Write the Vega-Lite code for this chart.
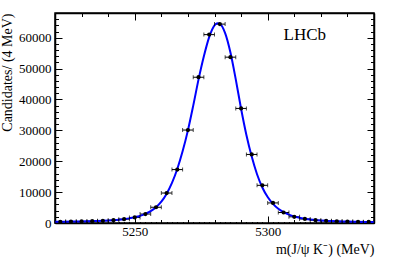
{
  "$schema": "https://vega.github.io/schema/vega-lite/v6.json",
  "width": 319,
  "height": 210,
  "autosize": {"type": "none"},
  "padding": {"left": 55, "top": 13, "right": 20, "bottom": 44},
  "background": "white",
  "config": {
    "view": {"stroke": "black", "strokeWidth": 1.5},
    "font": "Liberation Serif",
    "axis": {
      "labelFont": "Liberation Serif",
      "titleFont": "Liberation Serif",
      "labelFontSize": 13,
      "titleFontSize": 14,
      "titleFontWeight": "normal",
      "labelColor": "black",
      "titleColor": "black",
      "domainColor": "black",
      "tickColor": "black",
      "domainWidth": 1.5,
      "tickWidth": 1,
      "grid": false
    }
  },
  "datasets": {
    "points": [
      {"mass": 5222, "lo": 5220, "hi": 5224, "count": 400},
      {"mass": 5226, "lo": 5224, "hi": 5228, "count": 450},
      {"mass": 5230, "lo": 5228, "hi": 5232, "count": 500},
      {"mass": 5234, "lo": 5232, "hi": 5236, "count": 600},
      {"mass": 5238, "lo": 5236, "hi": 5240, "count": 700},
      {"mass": 5242, "lo": 5240, "hi": 5244, "count": 900},
      {"mass": 5246, "lo": 5244, "hi": 5248, "count": 1250},
      {"mass": 5250, "lo": 5248, "hi": 5252, "count": 1800},
      {"mass": 5254, "lo": 5252, "hi": 5256, "count": 2900},
      {"mass": 5258, "lo": 5256, "hi": 5260, "count": 5100},
      {"mass": 5262, "lo": 5260, "hi": 5264, "count": 9700},
      {"mass": 5266, "lo": 5264, "hi": 5268, "count": 17300},
      {"mass": 5270, "lo": 5268, "hi": 5272, "count": 30100},
      {"mass": 5274, "lo": 5272, "hi": 5276, "count": 47200},
      {"mass": 5278, "lo": 5276, "hi": 5280, "count": 61000},
      {"mass": 5282, "lo": 5280, "hi": 5284, "count": 64400},
      {"mass": 5286, "lo": 5284, "hi": 5288, "count": 53700},
      {"mass": 5290, "lo": 5288, "hi": 5292, "count": 37100},
      {"mass": 5294, "lo": 5292, "hi": 5296, "count": 22200},
      {"mass": 5298, "lo": 5296, "hi": 5300, "count": 12200},
      {"mass": 5302, "lo": 5300, "hi": 5304, "count": 6500},
      {"mass": 5306, "lo": 5304, "hi": 5308, "count": 3400},
      {"mass": 5310, "lo": 5308, "hi": 5312, "count": 2000},
      {"mass": 5314, "lo": 5312, "hi": 5316, "count": 1300},
      {"mass": 5318, "lo": 5316, "hi": 5320, "count": 900},
      {"mass": 5322, "lo": 5320, "hi": 5324, "count": 700},
      {"mass": 5326, "lo": 5324, "hi": 5328, "count": 550},
      {"mass": 5330, "lo": 5328, "hi": 5332, "count": 450},
      {"mass": 5334, "lo": 5332, "hi": 5336, "count": 400},
      {"mass": 5338, "lo": 5336, "hi": 5340, "count": 350}
    ],
    "fit": [
      {"mass": 5220, "value": 380}, {"mass": 5222, "value": 400}, {"mass": 5224, "value": 420},
      {"mass": 5226, "value": 450}, {"mass": 5228, "value": 480}, {"mass": 5230, "value": 510},
      {"mass": 5232, "value": 550}, {"mass": 5234, "value": 600}, {"mass": 5236, "value": 650},
      {"mass": 5238, "value": 720}, {"mass": 5240, "value": 800}, {"mass": 5242, "value": 910},
      {"mass": 5244, "value": 1050}, {"mass": 5246, "value": 1250}, {"mass": 5248, "value": 1500},
      {"mass": 5250, "value": 1850}, {"mass": 5252, "value": 2300}, {"mass": 5254, "value": 2950},
      {"mass": 5256, "value": 3850}, {"mass": 5258, "value": 5100}, {"mass": 5260, "value": 6900},
      {"mass": 5262, "value": 9500}, {"mass": 5264, "value": 13000}, {"mass": 5266, "value": 17500},
      {"mass": 5268, "value": 23200}, {"mass": 5270, "value": 30000}, {"mass": 5272, "value": 38000},
      {"mass": 5274, "value": 46500}, {"mass": 5276, "value": 54000}, {"mass": 5278, "value": 60200},
      {"mass": 5280, "value": 64000}, {"mass": 5281, "value": 64700}, {"mass": 5282, "value": 64500},
      {"mass": 5284, "value": 61500}, {"mass": 5286, "value": 55200}, {"mass": 5288, "value": 46500},
      {"mass": 5290, "value": 37000}, {"mass": 5292, "value": 28500}, {"mass": 5294, "value": 21500},
      {"mass": 5296, "value": 15800}, {"mass": 5298, "value": 11500}, {"mass": 5300, "value": 8400},
      {"mass": 5302, "value": 6200}, {"mass": 5304, "value": 4600}, {"mass": 5306, "value": 3500},
      {"mass": 5308, "value": 2700}, {"mass": 5310, "value": 2100}, {"mass": 5312, "value": 1700},
      {"mass": 5314, "value": 1400}, {"mass": 5316, "value": 1150}, {"mass": 5318, "value": 950},
      {"mass": 5320, "value": 820}, {"mass": 5322, "value": 710}, {"mass": 5324, "value": 630},
      {"mass": 5326, "value": 560}, {"mass": 5328, "value": 500}, {"mass": 5330, "value": 460},
      {"mass": 5332, "value": 420}, {"mass": 5334, "value": 390}, {"mass": 5336, "value": 360},
      {"mass": 5338, "value": 340}, {"mass": 5340, "value": 320}
    ],
    "label": [{"text": "LHCb"}]
  },
  "resolve": {"scale": {"x": "independent", "y": "independent"}, "axis": {"x": "independent", "y": "independent"}},
  "layer": [
    {
      "data": {"name": "points"},
      "mark": {"type": "rule", "color": "black", "strokeWidth": 1},
      "encoding": {
        "x": {
          "field": "lo", "type": "quantitative",
          "scale": {"domain": [5220, 5340], "nice": false, "zero": false},
          "axis": {
            "orient": "bottom",
            "title": "m(J/ψ K⁻) (MeV)",
            "titleAnchor": "end",
            "titlePadding": -2,
            "values": [5220,5222,5224,5226,5228,5230,5232,5234,5236,5238,5240,5242,5244,5246,5248,5250,5252,5254,5256,5258,5260,5262,5264,5266,5268,5270,5272,5274,5276,5278,5280,5282,5284,5286,5288,5290,5292,5294,5296,5298,5300,5302,5304,5306,5308,5310,5312,5314,5316,5318,5320,5322,5324,5326,5328,5330,5332,5334,5336,5338,5340],
            "labelExpr": "datum.value % 50 === 0 && datum.value > 5220 && datum.value < 5340 ? format(datum.value, 'd') : ''",
            "tickSize": {"condition": [{"test": "datum.value % 50 === 0", "value": -7}, {"test": "datum.value % 10 === 0", "value": -3.5}], "value": -1.5},
            "labelPadding": 9.5,
            "labelFlush": false,
            "labelOverlap": false
          }
        },
        "x2": {"field": "hi"},
        "y": {
          "field": "count", "type": "quantitative",
          "scale": {"domain": [0, 68000], "nice": false, "zero": true},
          "axis": {
            "orient": "left",
            "title": "Candidates/ (4 MeV)",
            "titleAnchor": "end",
            "titlePadding": 4,
            "values": [0,2000,4000,6000,8000,10000,12000,14000,16000,18000,20000,22000,24000,26000,28000,30000,32000,34000,36000,38000,40000,42000,44000,46000,48000,50000,52000,54000,56000,58000,60000,62000,64000,66000],
            "labelExpr": "datum.value % 10000 === 0 ? format(datum.value, 'd') : ''",
            "tickSize": {"condition": {"test": "datum.value % 10000 === 0", "value": -7}, "value": -3.5},
            "labelPadding": 11,
            "labelFlush": false,
            "labelOverlap": false
          }
        }
      }
    },
    {
      "data": {"name": "fit"},
      "mark": {"type": "line", "color": "#0000ff", "strokeWidth": 2, "interpolate": "monotone"},
      "encoding": {
        "x": {
          "field": "mass", "type": "quantitative",
          "scale": {"domain": [5220, 5340], "nice": false, "zero": false},
          "axis": {
            "orient": "top",
            "title": null,
            "labels": false,
            "values": [5230,5240,5250,5260,5270,5280,5290,5300,5310,5320,5330],
            "tickSize": {"condition": {"test": "datum.value % 50 === 0", "value": -7}, "value": -3.5}
          }
        },
        "y": {
          "field": "value", "type": "quantitative",
          "scale": {"domain": [0, 68000], "nice": false, "zero": true},
          "axis": {
            "orient": "right",
            "title": null,
            "labels": false,
            "values": [0,2000,4000,6000,8000,10000,12000,14000,16000,18000,20000,22000,24000,26000,28000,30000,32000,34000,36000,38000,40000,42000,44000,46000,48000,50000,52000,54000,56000,58000,60000,62000,64000,66000],
            "tickSize": {"condition": {"test": "datum.value % 10000 === 0", "value": -7}, "value": -3.5}
          }
        }
      }
    },
    {
      "data": {"name": "points"},
      "mark": {"type": "point", "shape": "circle", "filled": true, "color": "black", "opacity": 1, "size": 18},
      "encoding": {
        "x": {"field": "mass", "type": "quantitative", "scale": {"domain": [5220, 5340], "nice": false, "zero": false}, "axis": null},
        "y": {"field": "count", "type": "quantitative", "scale": {"domain": [0, 68000], "nice": false, "zero": true}, "axis": null}
      }
    },
    {
      "data": {"name": "points"},
      "mark": {"type": "tick", "orient": "vertical", "color": "black", "thickness": 1, "size": 4},
      "encoding": {
        "x": {"field": "lo", "type": "quantitative", "scale": {"domain": [5220, 5340], "nice": false, "zero": false}, "axis": null},
        "y": {"field": "count", "type": "quantitative", "scale": {"domain": [0, 68000], "nice": false, "zero": true}, "axis": null}
      }
    },
    {
      "data": {"name": "points"},
      "mark": {"type": "tick", "orient": "vertical", "color": "black", "thickness": 1, "size": 4},
      "encoding": {
        "x": {"field": "hi", "type": "quantitative", "scale": {"domain": [5220, 5340], "nice": false, "zero": false}, "axis": null},
        "y": {"field": "count", "type": "quantitative", "scale": {"domain": [0, 68000], "nice": false, "zero": true}, "axis": null}
      }
    },
    {
      "data": {"name": "label"},
      "mark": {"type": "text", "font": "Liberation Serif", "fontSize": 17, "align": "left", "baseline": "alphabetic", "color": "black"},
      "encoding": {
        "text": {"field": "text"},
        "x": {"datum": 5306, "type": "quantitative", "scale": {"domain": [5220, 5340], "nice": false, "zero": false}, "axis": null},
        "y": {"datum": 59300, "type": "quantitative", "scale": {"domain": [0, 68000], "nice": false, "zero": true}, "axis": null}
      }
    }
  ]
}
